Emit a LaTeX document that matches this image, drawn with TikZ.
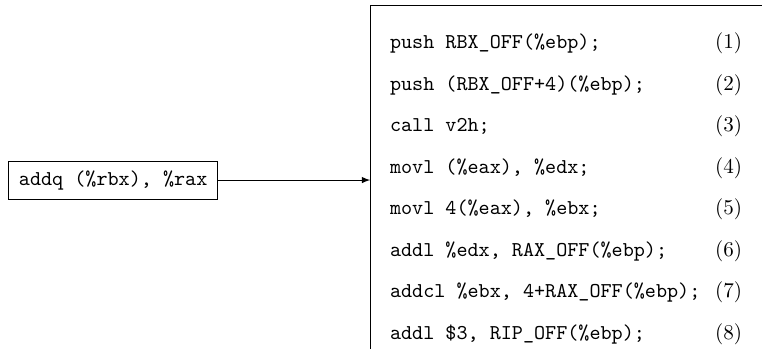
\documentclass[tikz,border=0pt]{standalone}
\usepackage{fontspec}
\usepackage{tikz}
\usetikzlibrary{arrows,positioning,calc}

\begin{document}
\begin{tikzpicture}[every node/.style={outer sep=0pt}]
\tikzstyle{insn}=[draw,inner xsep=5pt,minimum height=18pt,font=\ttfamily]
\tikzstyle{frame}=[draw,anchor=north west,minimum width=260pt,minimum height=200pt]
\useasboundingbox (0,0) rectangle (361pt,165pt);
\node (src) [insn] at (53.6pt,79.7pt) {addq (\%rbx), \%rax};
\node (frame) [frame] at (175.4pt,162.6pt) {};
\node (code) [anchor=north west,inner sep=0pt] at ($(frame.north west)+(9.4pt,-6.8pt)$)
{\renewcommand{\arraystretch}{1.64}%
\begin{tabular}{@{}l@{\hspace{7pt}}r@{}}
\texttt{push RBX\_OFF(\%ebp);} & (1)\\
\texttt{push (RBX\_OFF+4)(\%ebp);} & (2)\\
\texttt{call v2h;} & (3)\\
\texttt{movl (\%eax), \%edx;} & (4)\\
\texttt{movl 4(\%eax), \%ebx;} & (5)\\
\texttt{addl \%edx, RAX\_OFF(\%ebp);} & (6)\\
\texttt{addcl \%ebx, 4+RAX\_OFF(\%ebp);} & (7)\\
\texttt{addl \$3, RIP\_OFF(\%ebp);} & (8)
\end{tabular}};
\draw [-latex] (src.east) -- (src.east -| frame.west);
\end{tikzpicture}
\end{document}
